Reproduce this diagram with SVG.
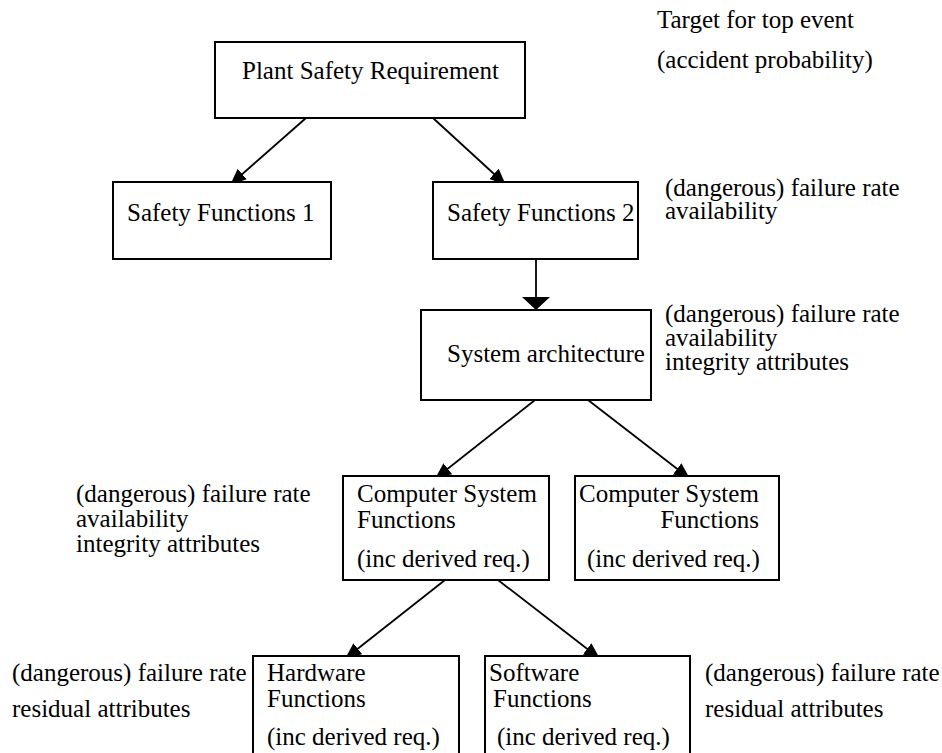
<svg xmlns="http://www.w3.org/2000/svg" width="942" height="753" viewBox="0 0 942 753">
<style>
text{font-family:"Liberation Serif","Times New Roman",serif;font-size:25px;fill:#000}
.box{fill:#fff;stroke:#000;stroke-width:2}
.con{stroke:#000;stroke-width:1.8;fill:none}
</style>
<defs>
<marker id="ah" markerUnits="userSpaceOnUse" markerWidth="16" markerHeight="14" refX="15" refY="7" orient="auto">
<path d="M0,0 L16,7 L0,14 z" fill="#000"/>
</marker>
<marker id="ahw" markerUnits="userSpaceOnUse" markerWidth="14" markerHeight="28" refX="13" refY="14" orient="auto">
<path d="M0,0 L13,14 L0,28 z" fill="#000"/>
</marker>
</defs>
<rect width="942" height="753" fill="#fff"/>
<g id="connectors">
<line class="con" x1="306" y1="118" x2="231" y2="184" marker-end="url(#ah)"/>
<line class="con" x1="433" y1="118" x2="505" y2="184" marker-end="url(#ah)"/>
<line class="con" x1="536" y1="259" x2="536" y2="310" marker-end="url(#ahw)"/>
<line class="con" x1="535" y1="400" x2="436" y2="478" marker-end="url(#ah)"/>
<line class="con" x1="588" y1="400" x2="689" y2="478" marker-end="url(#ah)"/>
<line class="con" x1="445" y1="580" x2="346" y2="658" marker-end="url(#ah)"/>
<line class="con" x1="498" y1="580" x2="599" y2="658" marker-end="url(#ah)"/>
</g>
<g id="plant">
<rect class="box" x="215" y="42" width="310" height="76"/>
<text x="242" y="79">Plant Safety Requirement</text>
</g>
<g id="note-top">
<text x="657" y="28">Target for top event</text>
<text x="657" y="68">(accident probability)</text>
</g>
<g id="sf1">
<rect class="box" x="113" y="182" width="218" height="77"/>
<text x="127" y="221">Safety Functions 1</text>
</g>
<g id="sf2">
<rect class="box" x="433" y="182" width="205" height="77"/>
<text x="447" y="221">Safety Functions 2</text>
</g>
<g id="note-sf2">
<text x="665" y="196">(dangerous) failure rate</text>
<text x="665" y="219">availability</text>
</g>
<g id="sysarch">
<rect class="box" x="421" y="310" width="230" height="90"/>
<text x="447" y="362">System architecture</text>
</g>
<g id="note-sysarch">
<text x="665" y="322">(dangerous) failure rate</text>
<text x="665" y="346">availability</text>
<text x="665" y="370">integrity attributes</text>
</g>
<g id="note-csf">
<text x="76" y="502">(dangerous) failure rate</text>
<text x="76" y="527">availability</text>
<text x="76" y="552">integrity attributes</text>
</g>
<g id="csf1">
<rect class="box" x="343" y="476" width="206" height="104"/>
<text x="357" y="502">Computer System</text>
<text x="357" y="528">Functions</text>
<text x="357" y="567">(inc derived req.)</text>
</g>
<g id="csf2">
<rect class="box" x="575" y="476" width="204" height="104"/>
<text x="579" y="502">Computer System</text>
<text x="759" y="528" text-anchor="end">Functions</text>
<text x="587" y="567">(inc derived req.)</text>
</g>
<g id="note-hw">
<text x="12" y="681">(dangerous) failure rate</text>
<text x="12" y="717">residual attributes</text>
</g>
<g id="hw">
<rect class="box" x="253" y="656" width="206" height="110"/>
<text x="267" y="681">Hardware</text>
<text x="267" y="707">Functions</text>
<text x="267" y="745">(inc derived req.)</text>
</g>
<g id="sw">
<rect class="box" x="485" y="656" width="205" height="110"/>
<text x="489" y="681">Software</text>
<text x="493" y="707">Functions</text>
<text x="497" y="745">(inc derived req.)</text>
</g>
<g id="note-sw">
<text x="705" y="681">(dangerous) failure rate</text>
<text x="705" y="717">residual attributes</text>
</g>
</svg>
